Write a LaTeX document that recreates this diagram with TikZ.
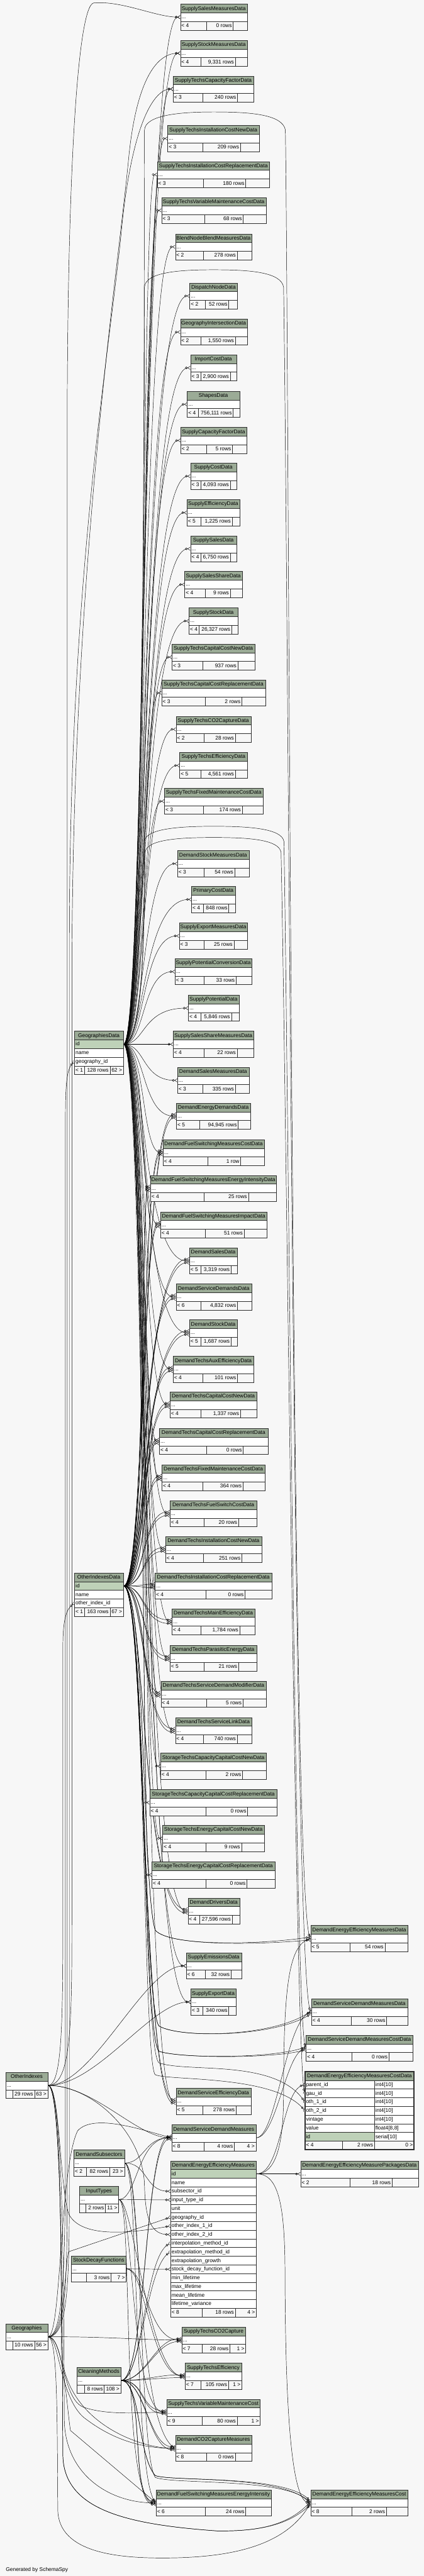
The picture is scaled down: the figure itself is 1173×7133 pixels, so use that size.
\documentclass[tikz,border=0pt]{standalone}
\usepackage{fontspec}
\setmainfont{Liberation Sans}
\usetikzlibrary{arrows.meta,calc,backgrounds}

\definecolor{canvas}{HTML}{F7F7F7}
\definecolor{headgreen}{HTML}{9BAB96}
\definecolor{keygreen}{HTML}{BED1B8}
\definecolor{rule}{HTML}{2E2E2E}

\tikzset{
  cell/.style={draw=rule, line width=0.8pt, inner sep=0pt, anchor=north west, minimum height=18pt},
  headcell/.style={cell, fill=headgreen},
  bodycell/.style={cell, fill=white},
  countcell/.style={cell, fill=canvas},
  txt/.style={inner sep=0pt, font=\fontsize{11}{13}\selectfont},
  fk/.style={line width=0.6pt, -{Circle[open,length=5pt,width=5pt] Straight Barb[reversed,length=5pt,width=7pt]}},
}

\begin{document}
\begin{tikzpicture}[x=0.75pt,y=-0.75pt]
\useasboundingbox (0,0) rectangle (1173,7133);

% tables that show only "..."
\foreach \n/\xl/\xr/\yt/\tname/\ba/\bb/\ltxt/\mtxt/\rtxt in {
  t1/499/684/11/SupplySalesMeasuresData/571/645/{< 4}/{0 rows}/{},
  t2/499/684/111/SupplyStockMeasuresData/556/651/{< 4}/{9,331 rows}/{},
  t3/479/702/210/SupplyTechsCapacityFactorData/561/657/{< 3}/{240 rows}/{},
  t4/464/717/347/SupplyTechsInstallationCostNewData/561/665/{< 3}/{209 rows}/{},
  t5/435/746/447/SupplyTechsInstallationCostReplacementData/562/680/{< 3}/{180 rows}/{},
  t6/447/736/546/SupplyTechsVariableMaintenanceCostData/566/673/{< 3}/{68 rows}/{},
  t7/485/697/647/BlendNodeBlendMeasuresData/562/656/{< 2}/{278 rows}/{},
  t8/525/657/783/DispatchNodeData/567/633/{< 2}/{52 rows}/{},
  t9/499/684/883/GeographyIntersectionData/556/651/{< 2}/{1,550 rows}/{},
  t10/527/654/982/ImportCostData/556/637/{< 3}/{2,900 rows}/{},
  t11/518/663/1083/ShapesData/548/645/{< 4}/{756,111 rows}/{},
  t12/500/682/1183/SupplyCapacityFactorData/571/643/{< 2}/{5 rows}/{},
  t13/527/654/1282/SupplyCostData/556/637/{< 3}/{4,093 rows}/{},
  t14/517/663/1383/SupplyEfficiencyData/556/642/{< 5}/{1,225 rows}/{},
  t15/527/654/1483/SupplySalesData/556/637/{< 4}/{6,750 rows}/{},
  t16/511/670/1582/SupplySalesShareData/568/637/{< 4}/{9 rows}/{},
  t17/523/658/1683/SupplyStockData/551/641/{< 4}/{26,327 rows}/{},
  t18/476/705/1783/SupplyTechsCapitalCostNewData/561/658/{< 3}/{937 rows}/{},
  t19/447/735/1882/SupplyTechsCapitalCostReplacementData/568/669/{< 3}/{2 rows}/{},
  t20/487/694/1983/SupplyTechsCO2CaptureData/565/651/{< 2}/{28 rows}/{},
  t21/497/685/2083/SupplyTechsEfficiencyData/556/651/{< 5}/{4,561 rows}/{},
  t22/455/728/2182/SupplyTechsFixedMaintenanceCostData/562/670/{< 3}/{174 rows}/{},
  t23/491/689/2355/DemandStockMeasuresData/565/649/{< 3}/{54 rows}/{},
  t24/530/651/2454/PrimaryCostData/562/633/{< 4}/{848 rows}/{},
  t25/496/685/2555/SupplyExportMeasuresData/565/647/{< 3}/{25 rows}/{},
  t26/484/697/2654/SupplyPotentialConversionData/565/653/{< 3}/{33 rows}/{},
  t27/521/661/2755/SupplyPotentialData/556/640/{< 4}/{5,846 rows}/{},
  t28/479/702/2855/SupplySalesShareMeasuresData/565/656/{< 4}/{22 rows}/{},
  t29/491/689/2955/DemandSalesMeasuresData/561/651/{< 3}/{335 rows}/{},
  t30/488/693/3054/DemandEnergyDemandsData/552/659/{< 5}/{94,945 rows}/{},
  t31/451/731/3155/DemandFuelSwitchingMeasuresCostData/574/666/{< 4}/{1 row}/{},
  t32/416/765/3254/DemandFuelSwitchingMeasuresEnergyIntensityData/565/687/{< 4}/{25 rows}/{},
  t33/444/739/3355/DemandFuelSwitchingMeasuresImpactData/567/675/{< 4}/{51 rows}/{},
  t34/524/657/3455/DemandSalesData/556/639/{< 5}/{3,319 rows}/{},
  t35/487/696/3555/DemandServiceDemandsData/556/657/{< 6}/{4,832 rows}/{},
  t36/524/657/3654/DemandStockData/556/639/{< 5}/{1,687 rows}/{},
  t37/479/702/3755/DemandTechsAuxEfficiencyData/561/657/{< 4}/{101 rows}/{},
  t38/470/711/3854/DemandTechsCapitalCostNewData/556/665/{< 4}/{1,337 rows}/{},
  t39/441/741/3955/DemandTechsCapitalCostReplacementData/571/673/{< 4}/{0 rows}/{},
  t40/448/733/4055/DemandTechsFixedMaintenanceCostData/561/672/{< 4}/{364 rows}/{},
  t41/470/711/4155/DemandTechsFuelSwitchCostData/565/660/{< 4}/{20 rows}/{},
  t42/458/724/4254/DemandTechsInstallationCostNewData/562/669/{< 4}/{251 rows}/{},
  t43/429/752/4355/DemandTechsInstallationCostReplacementData/569/678/{< 4}/{0 rows}/{},
  t44/476/705/4454/DemandTechsMainEfficiencyData/556/663/{< 4}/{1,784 rows}/{},
  t45/470/711/4555/DemandTechsParasiticEnergyData/565/660/{< 5}/{21 rows}/{},
  t46/445/737/4655/DemandTechsServiceDemandModifierData/571/672/{< 4}/{5 rows}/{},
  t47/485/697/4755/DemandTechsServiceLinkData/562/656/{< 4}/{740 rows}/{},
  t48/444/737/4854/StorageTechsCapacityCapitalCostNewData/569/671/{< 4}/{2 rows}/{},
  t49/414/767/4955/StorageTechsCapacityCapitalCostReplacementData/569/685/{< 4}/{0 rows}/{},
  t50/450/731/5054/StorageTechsEnergyCapitalCostNewData/569/668/{< 4}/{9 rows}/{},
  t51/420/761/5155/StorageTechsEnergyCapitalCostReplacementData/569/683/{< 4}/{0 rows}/{},
  t52/520/663/5255/DemandDriversData/552/642/{< 4}/{27,596 rows}/{},
  t53/515/668/5407/SupplyEmissionsData/567/639/{< 6}/{32 rows}/{},
  t54/528/653/5507/SupplyExportData/561/633/{< 3}/{340 rows}/{},
  t55/487/694/5782/DemandServiceEfficiencyData/561/653/{< 5}/{278 rows}/{},
  t56/475/708/5883/DemandServiceDemandMeasures/564/648/{< 8}/{4 rows}/{4 >},
  t57/503/680/6443/SupplyTechsCO2Capture/559/636/{< 7}/{28 rows}/{1 >},
  t58/512/669/6543/SupplyTechsEfficiency/556/632/{< 7}/{105 rows}/{1 >},
  t59/461/720/6643/SupplyTechsVariableMaintenanceCost/559/656/{< 9}/{80 rows}/{1 >},
  t60/485/697/6743/DemandCO2CaptureMeasures/571/651/{< 8}/{0 rows}/{},
  t61/432/750/6894/DemandFuelSwitchingMeasuresEnergyIntensity/567/680/{< 6}/{24 rows}/{},
  u1/860/1129/5331/DemandEnergyEfficiencyMeasuresData/969/1065/{< 5}/{54 rows}/{},
  u2/862/1128/5535/DemandServiceDemandMeasuresData/971/1070/{< 4}/{30 rows}/{},
  u3/847/1143/5635/DemandServiceDemandMeasuresCostData/973/1076/{< 4}/{0 rows}/{},
  u4/832/1158/5983/DemandEnergyEfficiencyMeasurePackagesData/969/1085/{< 2}/{18 rows}/{},
  u5/860/1129/6894/DemandEnergyEfficiencyMeasuresCost/973/1069/{< 8}/{2 rows}/{},
  oi/16/132/5738/OtherIndexes/34/95/{}/{29 rows}/{63 >},
  dsub/204/344/5953/DemandSubsectors/239/303/{< 2}/{82 rows}/{23 >},
  itype/220/328/6054/InputTypes/236/291/{}/{2 rows}/{11 >},
  sdf/197/349/6246/StockDecayFunctions/239/307/{}/{3 rows}/{7 >},
  geo/16/132/6434/Geographies/34/95/{}/{10 rows}/{56 >},
  cm/213/334/6555/CleaningMethods/233/288/{}/{8 rows}/{108 >}}{
  \node[headcell, minimum width={(\xr-\xl)*0.75pt}] (\n-h) at (\xl,\yt) {};
  \node[txt, anchor=base] at ({(\xl+\xr)/2},\yt+17) {\tname};
  \node[bodycell, minimum width={(\xr-\xl)*0.75pt}] (\n) at (\xl,\yt+24) {};
  \node[txt, anchor=base west] at (\xl+3,\yt+41) {...};
  \node[countcell, minimum width={(\ba-\xl)*0.75pt}] at (\xl,\yt+48) {};
  \node[countcell, minimum width={(\bb-\ba)*0.75pt}] at (\ba,\yt+48) {};
  \node[countcell, minimum width={(\xr-\bb)*0.75pt}] at (\bb,\yt+48) {};
  \node[txt, anchor=base west] at (\xl+3,\yt+65) {\ltxt};
  \node[txt, anchor=base east] at (\bb-3,\yt+65) {\mtxt};
  \node[txt, anchor=base east] at (\xr-3,\yt+65) {\rtxt};
}

% GeographiesData and OtherIndexesData
\foreach \p/\xl/\yt/\tname/\lastrow/\lasttxt in {gd/206/2855/GeographiesData/geo/geography\_id,
    oid/206/4355/OtherIndexesData/oth/other\_index\_id}{
  \node[headcell, minimum width=101.25pt] (\p-h) at (\xl,\yt) {};
  \node[txt, anchor=base] at (\xl+67.5,\yt+17) {\tname};
  \foreach \rw/\rtx/\rbg [count=\k] in {id/id/keygreen, name/name/white, \lastrow/\lasttxt/white}{
    \node[cell, fill=\rbg, minimum width=101.25pt] (\p-\rw) at (\xl,\yt+24*\k) {};
    \node[txt, anchor=base west] at (\xl+3,\yt+17+24*\k) {\rtx};
  }
}

% DemandEnergyEfficiencyMeasures
\node[headcell, minimum width=177.75pt] (m-h) at (472,5983) {};
\node[txt, anchor=base] at (590.5,6000) {DemandEnergyEfficiencyMeasures};
\foreach \rw/\rtx/\rbg [count=\k from 0] in {id/id/keygreen, name/name/white, sub/subsector\_id/white,
    input/input\_type\_id/white, unit/unit/white, geo/geography\_id/white, oth1/other\_index\_1\_id/white,
    oth2/other\_index\_2\_id/white, interp/interpolation\_method\_id/white, extrap/extrapolation\_method\_id/white,
    growth/extrapolation\_growth/white, sdf/stock\_decay\_function\_id/white, minl/min\_lifetime/white,
    maxl/max\_lifetime/white, meanl/mean\_lifetime/white, var/lifetime\_variance/white}{
  \node[cell, fill=\rbg, minimum width=177.75pt] (m-\rw) at (472,6007+24*\k) {};
  \node[txt, anchor=base west] at (475,6024+24*\k) {\rtx};
}

% DemandEnergyEfficiencyMeasuresCostData (the table in focus)
\node[headcell, minimum width=226.5pt] (cd-h) at (844,5736) {};
\node[txt, anchor=base] at (995,5753) {DemandEnergyEfficiencyMeasuresCostData};
\foreach \rw/\rtx/\ttx/\rbg [count=\k from 0] in {parent/parent\_id/{int4[10]}/white, gau/gau\_id/{int4[10]}/white,
    oth1/oth\_1\_id/{int4[10]}/white, oth2/oth\_2\_id/{int4[10]}/white, vint/vintage/{int4[10]}/white,
    val/value/{float4[8,8]}/white, id/id/{serial[10]}/keygreen}{
  \node[cell, fill=\rbg, minimum width=144pt] (cd-\rw) at (844,5760+24*\k) {};
  \node[bodycell, minimum width=82.5pt] at (1036,5760+24*\k) {};
  \node[txt, anchor=base west] at (847,5777+24*\k) {\rtx};
  \node[txt, anchor=base west] at (1039,5777+24*\k) {\ttx};
}

% footers of the tables with columns
\foreach \xl/\xr/\yf/\ba/\bb/\ltxt/\mtxt/\rtxt in {206/341/2951/234/304/{< 1}/{128 rows}/{62 >},
    206/341/4451/234/304/{< 1}/{163 rows}/{67 >}, 472/709/6391/559/651/{< 8}/{18 rows}/{4 >},
    844/1146/5928/947/1036/{< 4}/{2 rows}/{0 >}}{
  \node[countcell, minimum width={(\ba-\xl)*0.75pt}] at (\xl,\yf) {};
  \node[countcell, minimum width={(\bb-\ba)*0.75pt}] at (\ba,\yf) {};
  \node[countcell, minimum width={(\xr-\bb)*0.75pt}] at (\bb,\yf) {};
  \node[txt, anchor=base west] at (\xl+3,\yf+17) {\ltxt};
  \node[txt, anchor=base east] at (\bb-3,\yf+17) {\mtxt};
  \node[txt, anchor=base east] at (\xr-3,\yf+17) {\rtxt};
}
\draw[rule, line width=2.2pt] (844,5736) rectangle (1146,5952);

\node[txt, anchor=base west] (credit) at (16,7119) {Generated by SchemaSpy};

\begin{pgfonlayer}{background}
\fill[canvas] (0,0) rectangle (1173,7133);
\coordinate (bx) at (392,0);
\coordinate (bxo) at (403,0);

% GeographiesData.id to the data tables
\foreach \i in {1,...,55}
  \draw[fk] (gd-id.east) .. controls (gd-id.east -| bxo) and (t\i.west -| bx) .. (t\i.west);

% OtherIndexesData.id to the demand data tables (two keys each)
\foreach \i in {30,31,32,33,34,35,36,37,38,39,40,41,42,43,44,45,46,47,52,55}
  \foreach \dy in {-5,5}
    \draw[fk] (oid-id.east) .. controls (oid-id.east -| bxo) and ($(t\i.west -| bx)+(0,\dy)$) .. ($(t\i.west)+(0,\dy)$);
\foreach \dy in {-4,4} {
  \draw[fk] (oid-id.east) .. controls (402,4391) and (395,5250) .. (430,5345) .. controls (470,5390) and (720,5385) .. ($(u1.west)+(0,\dy)$);
  \draw[fk] (oid-id.east) .. controls (402,4391) and (395,5550) .. (440,5610) .. controls (500,5645) and (760,5640) .. ($(u2.west)+(0,\dy)$);
  \draw[fk] (oid-id.east) .. controls (402,4391) and (395,5640) .. (440,5680) .. controls (500,5700) and (760,5700) .. ($(u3.west)+(0,\dy)$);
}
\draw[fk] (oid-id.east) .. controls (402,4391) and (395,5680) .. (440,5712) .. controls (520,5740) and (760,5700) .. (cd-oth1.west);
\draw[fk] (oid-id.east) .. controls (402,4391) and (395,5720) .. (430,5745) .. controls (470,5762) and (760,5745) .. (cd-oth2.west);

% arcs over the upper tables, down the right side
\draw[fk] (gd-id.east) .. controls (405,2891) and (398,700) .. (400,360) .. controls (402,318) and (500,310) .. (591,310)
  .. controls (690,310) and (782,316) .. (790,360) .. controls (800,1000) and (806,5250) .. (u1.west);
\draw[fk] (gd-id.east) .. controls (405,2891) and (398,1100) .. (400,795) .. controls (402,753) and (500,747) .. (591,747)
  .. controls (690,747) and (778,753) .. (785,795) .. controls (797,1500) and (812,5480) .. (u2.west);
\draw[fk] (gd-id.east) .. controls (405,2891) and (398,2450) .. (400,2330) .. controls (402,2294) and (500,2288) .. (591,2288)
  .. controls (690,2288) and (780,2294) .. (786,2330) .. controls (798,3000) and (816,5580) .. (u3.west);
\draw[fk] (gd-id.east) .. controls (405,2891) and (398,2480) .. (402,2360) .. controls (405,2324) and (500,2319) .. (591,2319)
  .. controls (685,2319) and (772,2324) .. (778,2360) .. controls (792,3000) and (818,5700) .. (cd-gau.west);

% long lines on the far left
\draw[fk] (geo.east) .. controls (178,6470) and (181,6250) .. (181,5900) -- (181,3100) .. controls (181,3000) and (185,2960) .. (gd-geo.west);
\draw[fk] (oi.east) .. controls (172,5774) and (174,5600) .. (174,5300) -- (174,4560) .. controls (174,4480) and (185,4455) .. (oid-oth.west);
\draw[fk] (geo.east) .. controls (186,6470) and (186,6300) .. (186,6000) -- (186,1200) .. controls (186,500) and (214,12) .. (260,8)
  .. controls (340,2) and (430,47) .. (t1.west);
\draw[fk] (oi.east) .. controls (198,5774) and (199,5600) .. (199,5300) -- (199,2700) .. controls (200,1600) and (320,800) .. (355,450)
  .. controls (375,230) and (430,147) .. (t2.west);
\draw[fk] (geo.east) .. controls (192,6470) and (192,6300) .. (192,6000) -- (192,2600) .. controls (193,1600) and (300,1000) .. (335,650)
  .. controls (365,330) and (430,246) .. (t3.west);

% OtherIndexes
\draw[fk] (oi.east) .. controls (260,5774) and (400,5443) .. (t53.west);
\draw[fk] (oi.east) .. controls (270,5774) and (420,5543) .. (t54.west);
\draw[fk] (oi.east) .. controls (260,5774) and (380,5919) .. (t56.west);
\draw[fk] (oi.east) .. controls (165,5774) and (165,6050) .. (190,6130) .. controls (220,6190) and (330,6190) .. (m-oth1.west);
\draw[fk] (oi.east) .. controls (250,5774) and (395,5900) .. (400,6050) .. controls (402,6150) and (420,6187) .. (m-oth2.west);
\draw[fk] (oi.east) .. controls (170,5774) and (168,6200) .. (170,6500) .. controls (172,6700) and (380,6779) .. (t60.west);
\draw[fk] (oi.east) .. controls (175,5774) and (176,6300) .. (178,6700) .. controls (180,6850) and (300,6930) .. (t61.west);
\foreach \dy in {-4,4}
  \draw[fk] (oi.east) .. controls (172,5774) and (172,6400) .. (174,6800) .. controls (178,6950) and (350,6990) .. (600,7008)
    .. controls (720,7010) and (800,6990) .. ($(u5.west)+(0,\dy)$);

% Geographies
\draw[fk] (geo.east) .. controls (180,6470) and (178,6280) .. (190,6235) -- (m-geo.west);
\draw[fk] (geo.east) .. controls (170,6470) and (165,6000) .. (215,5900) .. controls (260,5850) and (400,5900) .. (t56.west);
\draw[fk] (geo.east) .. controls (300,6470) and (380,6479) .. (t57.west);
\draw[fk] (geo.east) .. controls (175,6470) and (170,6640) .. (230,6665) .. controls (300,6690) and (400,6679) .. (t59.west);
\draw[fk] (geo.east) .. controls (165,6470) and (165,6650) .. (240,6700) .. controls (320,6760) and (400,6779) .. (t60.west);
\draw[fk] (geo.east) .. controls (175,6470) and (183,6650) .. (195,6730) -- (t61.west);
\draw[fk] (geo.east) .. controls (160,6470) and (158,6700) .. (160,6950) .. controls (162,7070) and (330,7083) .. (450,7083)
  .. controls (640,7083) and (790,7050) .. (u5.west);

% DemandSubsectors
\draw[fk] (dsub.east) .. controls (400,5989) and (400,5919) .. (t56.west);
\draw[fk] (dsub.east) .. controls (410,5989) and (400,6067) .. (m-sub.west);
\draw[fk] (dsub.east) .. controls (390,5989) and (375,6700) .. (t60.west);
\draw[fk] (dsub.east) .. controls (385,5989) and (370,6850) .. (t61.west);
\draw[fk] (dsub.east) .. controls (395,5989) and (385,6800) .. (430,6860) .. controls (480,6880) and (790,6860) .. (u5.west);

% InputTypes
\draw[fk] (itype.east) -- (m-input.west);
\draw[fk] (itype.east) .. controls (380,6090) and (380,5919) .. (t56.west);
\foreach \t in {t58,t59,t61}
  \draw[fk] (itype.east) .. controls (370,6090) and +(-100,0) .. (\t.west);

% StockDecayFunctions
\draw[fk] (sdf.east) -- (m-sdf.west);
\foreach \t in {t57,t58}
  \draw[fk] (sdf.east) .. controls +(55,0) and +(-95,0) .. (\t.west);

% CleaningMethods
\draw[fk] (cm.east) .. controls (395,6591) and (400,6250) .. (m-interp.west);
\draw[fk] (cm.east) .. controls (390,6591) and (405,6280) .. (m-extrap.west);
\foreach \t in {t56,t57,t58,t59,t60,t61}
  \foreach \dy in {-4,4}
    \draw[fk] (cm.east) .. controls +(70,0) and +(-75,0) .. ($(\t.west)+(0,\dy)$);
\foreach \dy in {-4,4}
  \draw[fk] (cm.east) .. controls (390,6591) and (380,6800) .. (430,6855) .. controls (480,6872) and (790,6852) .. ($(u5.west)+(0,\dy)$);

% DemandEnergyEfficiencyMeasures.id and DemandServiceDemandMeasures
\draw[fk] (m-id.east) -- (u4.west);
\draw[fk] (m-id.east) .. controls (770,6019) and (789,6100) .. (789,6300) .. controls (790,6750) and (815,6925) .. (u5.west);
\draw[fk] (m-id.east) .. controls (760,6019) and (785,5950) .. (785,5800) .. controls (785,5500) and (800,5390) .. (u1.west);
\draw[fk] (m-id.east) .. controls (780,6019) and (780,5790) .. (cd-parent.west);
\draw[fk] (t56.east) .. controls (765,5919) and (790,5600) .. (u2.west);
\draw[fk] (t56.east) .. controls (765,5919) and (790,5690) .. (u3.west);
\end{pgfonlayer}
\end{tikzpicture}
\end{document}
